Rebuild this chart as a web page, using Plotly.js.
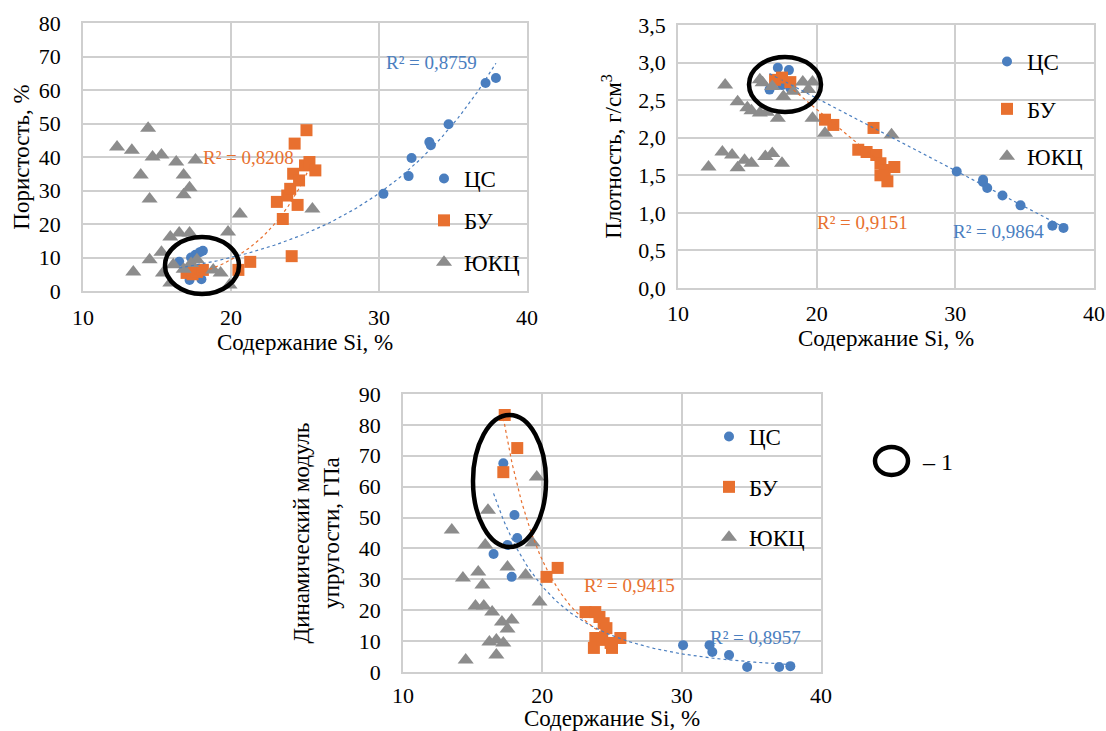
<!DOCTYPE html>
<html><head><meta charset="utf-8">
<script src="https://cdn.plot.ly/plotly-3.0.1.min.js"></script>
<style>html,body{margin:0;padding:0;background:#fff}#chart{width:1106px;height:731px}</style>
</head><body><div id="chart"></div>
<script>
// ---------- DATA ----------
const seriesNames = ['ЦС', 'БУ', 'ЮКЦ'];
const xTitle = 'Содержание Si, %';
const yTitles = ['Пористость, %', 'Плотность, г/см<sup>3</sup>', 'Динамический модуль<br>упругости, ГПа'];
const r2Labels = {poroCS: 'R² = 0,8759', poroBU: 'R² = 0,8208', densBU: 'R² = 0,9151', densCS: 'R² = 0,9864', modBU: 'R² = 0,9415', modCS: 'R² = 0,8957'};
const ellipseLabel = '– 1';

// Porosity chart
const poroCS_si  = [16.5, 17.2, 17.3, 17.6, 17.9, 18.1, 18.0, 30.3, 32.0, 32.2, 33.4, 33.5, 34.7, 37.2, 37.9];
const poroCS_val = [8.7, 3.3, 10.0, 10.8, 11.6, 12.0, 3.5, 29.0, 34.3, 39.7, 44.5, 43.5, 49.8, 62.1, 63.6];
const poroBU_si  = [17.0, 17.4, 17.7, 18.1, 20.5, 21.3, 23.1, 23.5, 23.8, 24.0, 24.1, 24.2, 24.3, 24.5, 24.6, 25.0, 25.1, 25.3, 25.7];
const poroBU_val = [5.4, 5.0, 5.7, 6.3, 6.3, 8.7, 26.6, 21.5, 28.5, 30.5, 10.4, 35.0, 44.0, 25.7, 33.0, 37.5, 48.0, 38.5, 36.0];
const poroUK_si  = [12.3, 13.3, 14.4, 14.7, 15.3, 16.3, 17.6, 13.9, 16.8, 14.5, 16.8, 17.2, 20.6, 15.9, 16.5, 17.2, 19.8, 15.3, 14.5, 13.4, 16.1, 17.7, 19.3, 18.8, 15.9, 19.9, 25.5, 15.4, 16.8, 17.3];
const poroUK_val = [43.0, 42.0, 48.6, 40.0, 40.6, 38.5, 39.1, 34.6, 34.6, 27.5, 28.7, 30.8, 23.0, 16.1, 17.3, 17.3, 17.6, 11.6, 9.3, 5.7, 7.8, 9.3, 5.4, 6.3, 2.4, 1.8, 24.5, 5.4, 6.5, 8.2];

// Density chart
const densCS_si  = [16.6, 17.2, 18.0, 18.1, 17.5, 30.1, 32.0, 32.0, 32.3, 33.4, 34.7, 37.0, 37.8];
const densCS_val = [2.64, 2.93, 2.90, 2.66, 2.70, 1.55, 1.44, 1.41, 1.33, 1.23, 1.10, 0.83, 0.80];
const densBU_si  = [17.0, 17.5, 18.1, 20.6, 21.2, 23.0, 23.6, 24.1, 24.3, 24.6, 24.9, 25.1, 25.6, 24.6];
const densBU_val = [2.77, 2.80, 2.74, 2.24, 2.17, 1.84, 1.81, 2.13, 1.77, 1.66, 1.57, 1.42, 1.61, 1.50];
const densUK_si  = [13.4, 14.3, 15.0, 15.3, 15.9, 16.4, 17.2, 15.9, 16.1, 16.8, 17.6, 18.3, 19.0, 19.7, 19.4, 19.7, 20.6, 12.2, 13.2, 13.9, 14.3, 14.8, 15.3, 16.3, 16.8, 17.5, 25.4];
const densUK_val = [2.70, 2.48, 2.40, 2.36, 2.33, 2.34, 2.26, 2.77, 2.73, 2.68, 2.55, 2.62, 2.74, 2.74, 2.64, 2.26, 2.06, 1.61, 1.81, 1.77, 1.60, 1.70, 1.66, 1.75, 1.79, 1.66, 2.04];

// Dynamic modulus chart
const modCS_si  = [16.5, 17.2, 17.5, 17.8, 18.0, 18.2, 30.1, 32.0, 32.2, 33.4, 34.7, 37.0, 37.8];
const modCS_val = [38.2, 67.6, 41.1, 30.8, 50.8, 43.4, 8.7, 8.7, 6.5, 5.5, 1.6, 1.6, 1.9];
const modBU_si  = [17.2, 17.3, 18.2, 20.3, 21.1, 23.1, 23.8, 24.1, 24.4, 24.6, 23.8, 25.6, 23.7, 25.0, 24.3, 24.9];
const modBU_val = [64.7, 83.2, 72.5, 30.8, 33.7, 19.4, 19.4, 17.8, 15.8, 14.2, 11.0, 11.0, 7.8, 7.8, 10.4, 9.4];
const modUK_si  = [19.6, 16.1, 13.5, 15.9, 19.3, 14.3, 15.4, 17.5, 18.8, 15.7, 19.8, 15.2, 15.8, 16.4, 17.1, 17.8, 17.5, 16.2, 16.7, 17.2, 16.7, 14.5];
const modUK_val = [63.1, 52.4, 46.0, 41.1, 41.8, 30.4, 32.4, 34.0, 31.4, 28.2, 22.7, 21.4, 21.4, 19.4, 16.2, 16.8, 13.9, 9.7, 10.4, 9.4, 5.5, 3.9];

// ---------- STYLE ----------
const W = 1106, H = 731;
const FONT = 'Liberation Serif';
const BLUE = '#4A7EBF', ORANGE = '#E8702F', GRAY = '#8C8C8C', GRID = '#CFCFCF';
const px = v => v / W, py = v => 1 - v / H;
const fnt = (size, color) => ({family:FONT, size:size, color:color || '#000'});

// ---------- trend fitting (least squares, like spreadsheet trendlines) ----------
function linReg(xs, ys) {
  const n = xs.length; let sx=0, sy=0, sxx=0, sxy=0;
  for (let i=0;i<n;i++){ sx+=xs[i]; sy+=ys[i]; sxx+=xs[i]*xs[i]; sxy+=xs[i]*ys[i]; }
  const b = (n*sxy - sx*sy)/(n*sxx - sx*sx); const a = (sy - b*sx)/n; return [a,b];
}
function trend(xs, ys, kind) {
  let f;
  if (kind === 'lin') { const [a,b] = linReg(xs, ys); f = x => a + b*x; }
  else if (kind === 'exp') { const [a,b] = linReg(xs, ys.map(Math.log)); f = x => Math.exp(a + b*x); }
  else { const [a,b] = linReg(xs.map(Math.log), ys.map(Math.log)); f = x => Math.exp(a) * Math.pow(x, b); }
  const lo = Math.min(...xs), hi = Math.max(...xs), tx = [], ty = [];
  for (let i=0;i<=100;i++){ const x = lo + (hi-lo)*i/100; tx.push(x); ty.push(f(x)); }
  return {tx, ty};
}

const markerStyles = [
  {symbol:'circle', size:10, color:BLUE},
  {symbol:'square', size:12, color:ORANGE},
  {symbol:'triangle-up', size:14, color:GRAY}
];

const traces = [];
function addChart(idx, sets, fits) {
  const xa = idx === 1 ? 'x' : 'x' + idx, ya = idx === 1 ? 'y' : 'y' + idx;
  const leg = idx === 1 ? 'legend' : 'legend' + idx;
  sets.forEach((s, k) => {
    traces.push({type:'scatter', mode:'markers', x:s[0], y:s[1], xaxis:xa, yaxis:ya, name:seriesNames[k],
      legend:leg, legendgroup:'g'+idx+'_'+k, cliponaxis:false,
      marker:{symbol:markerStyles[k].symbol, size:markerStyles[k].size, color:markerStyles[k].color, line:{width:0}}, hoverinfo:'x+y'});
  });
  fits.forEach(([s, kind, color]) => {
    const t = trend(s[0], s[1], kind);
    traces.push({type:'scatter', mode:'lines', x:t.tx, y:t.ty, xaxis:xa, yaxis:ya, showlegend:false,
      line:{color:color, width:1.2, dash:'dot'}, hoverinfo:'skip'});
  });
}
addChart(1, [[poroCS_si, poroCS_val],[poroBU_si, poroBU_val],[poroUK_si, poroUK_val]],
  [[[poroCS_si, poroCS_val],'exp',BLUE],[[poroBU_si, poroBU_val],'exp',ORANGE]]);
addChart(2, [[densCS_si, densCS_val],[densBU_si, densBU_val],[densUK_si, densUK_val]],
  [[[densCS_si, densCS_val],'lin',BLUE],[[densBU_si, densBU_val],'lin',ORANGE]]);
addChart(3, [[modCS_si, modCS_val],[modBU_si, modBU_val],[modUK_si, modUK_val]],
  [[[modCS_si, modCS_val],'pow',BLUE],[[modBU_si, modBU_val],'pow',ORANGE]]);

function xAxis(l, r, anchor, tl) {
  return {domain:[px(l), px(r)], anchor:anchor, range:[10,40], tick0:10, dtick:10, showgrid:true, gridcolor:GRID, gridwidth:1.5,
    showline:true, linecolor:GRID, linewidth:1.5, mirror:true, zeroline:false, ticks:'outside', ticklen:tl, tickcolor:'rgba(0,0,0,0)',
    tickfont:fnt(22), automargin:false, fixedrange:true, title:{text:xTitle, font:fnt(23), standoff:0}};
}
function yAxis(t, b, anchor, range, dtick, fmt, tl, title, so) {
  return {domain:[py(b), py(t)], anchor:anchor, range:range, dtick:dtick, tick0:0, tickformat:fmt, showgrid:true, gridcolor:GRID, gridwidth:1.5,
    showline:true, linecolor:GRID, linewidth:1.5, mirror:true, zeroline:false, ticks:'outside', ticklen:tl, tickcolor:'rgba(0,0,0,0)',
    tickfont:fnt(22), automargin:false, fixedrange:true, title:{text:title, font:fnt(23), standoff:so}};
}
function legendAt(x, y, gap) {
  return {x:px(x), y:py(y), xanchor:'left', yanchor:'top', bgcolor:'rgba(0,0,0,0)', borderwidth:0,
    font:fnt(23), tracegroupgap:gap, traceorder:'grouped', itemclick:false, itemdoubleclick:false};
}
function r2(text, x, y, color) {
  return {text:text, xref:'paper', yref:'paper', x:px(x), y:py(y), xanchor:'left', yanchor:'middle', showarrow:false,
    font:fnt(19, color)};
}
function ellipse(l, r, t, b) {
  return {type:'circle', xref:'paper', yref:'paper', x0:px(l), x1:px(r), y0:py(b), y1:py(t), line:{color:'#000', width:4.5}};
}

const layout = {
  width:W, height:H, margin:{l:0, r:0, t:0, b:0}, paper_bgcolor:'#fff', plot_bgcolor:'#fff',
  font:fnt(22), separators:', ', hovermode:'closest',
  xaxis:  xAxis(83, 527, 'y', 6),
  yaxis:  yAxis(23, 291, 'x', [0,80], 10, 'd', 16, yTitles[0], 3),
  xaxis2: xAxis(678, 1094, 'y2', 5),
  yaxis2: yAxis(25, 288, 'x2', [0,3.5], 0.5, '.1f', 6, yTitles[1], 10),
  xaxis3: xAxis(403, 821, 'y3', 3),
  yaxis3: yAxis(394, 672, 'x3', [0,90], 10, 'd', 16, yTitles[2], 13),
  legend:  legendAt(424, 157, 9),
  legend2: legendAt(987, 40, 14.5),
  legend3: legendAt(709, 415, 17.5),
  annotations: [
    r2(r2Labels.poroCS, 384, 62, BLUE), r2(r2Labels.poroBU, 201, 157, ORANGE),
    r2(r2Labels.densBU, 815, 222, ORANGE), r2(r2Labels.densCS, 951, 231, BLUE),
    r2(r2Labels.modBU, 582, 585, ORANGE), r2(r2Labels.modCS, 708, 637, BLUE),
    {text:ellipseLabel, xref:'paper', yref:'paper', x:px(920), y:py(462), xanchor:'left', yanchor:'middle', showarrow:false, font:fnt(24)}
  ],
  shapes: [ellipse(165, 239, 237, 294), ellipse(749, 821, 57, 112), ellipse(473, 546, 415, 547), ellipse(875, 908, 447, 475)]
};

Plotly.newPlot('chart', traces, layout, {displayModeBar:false, staticPlot:false});
</script>
</body></html>
